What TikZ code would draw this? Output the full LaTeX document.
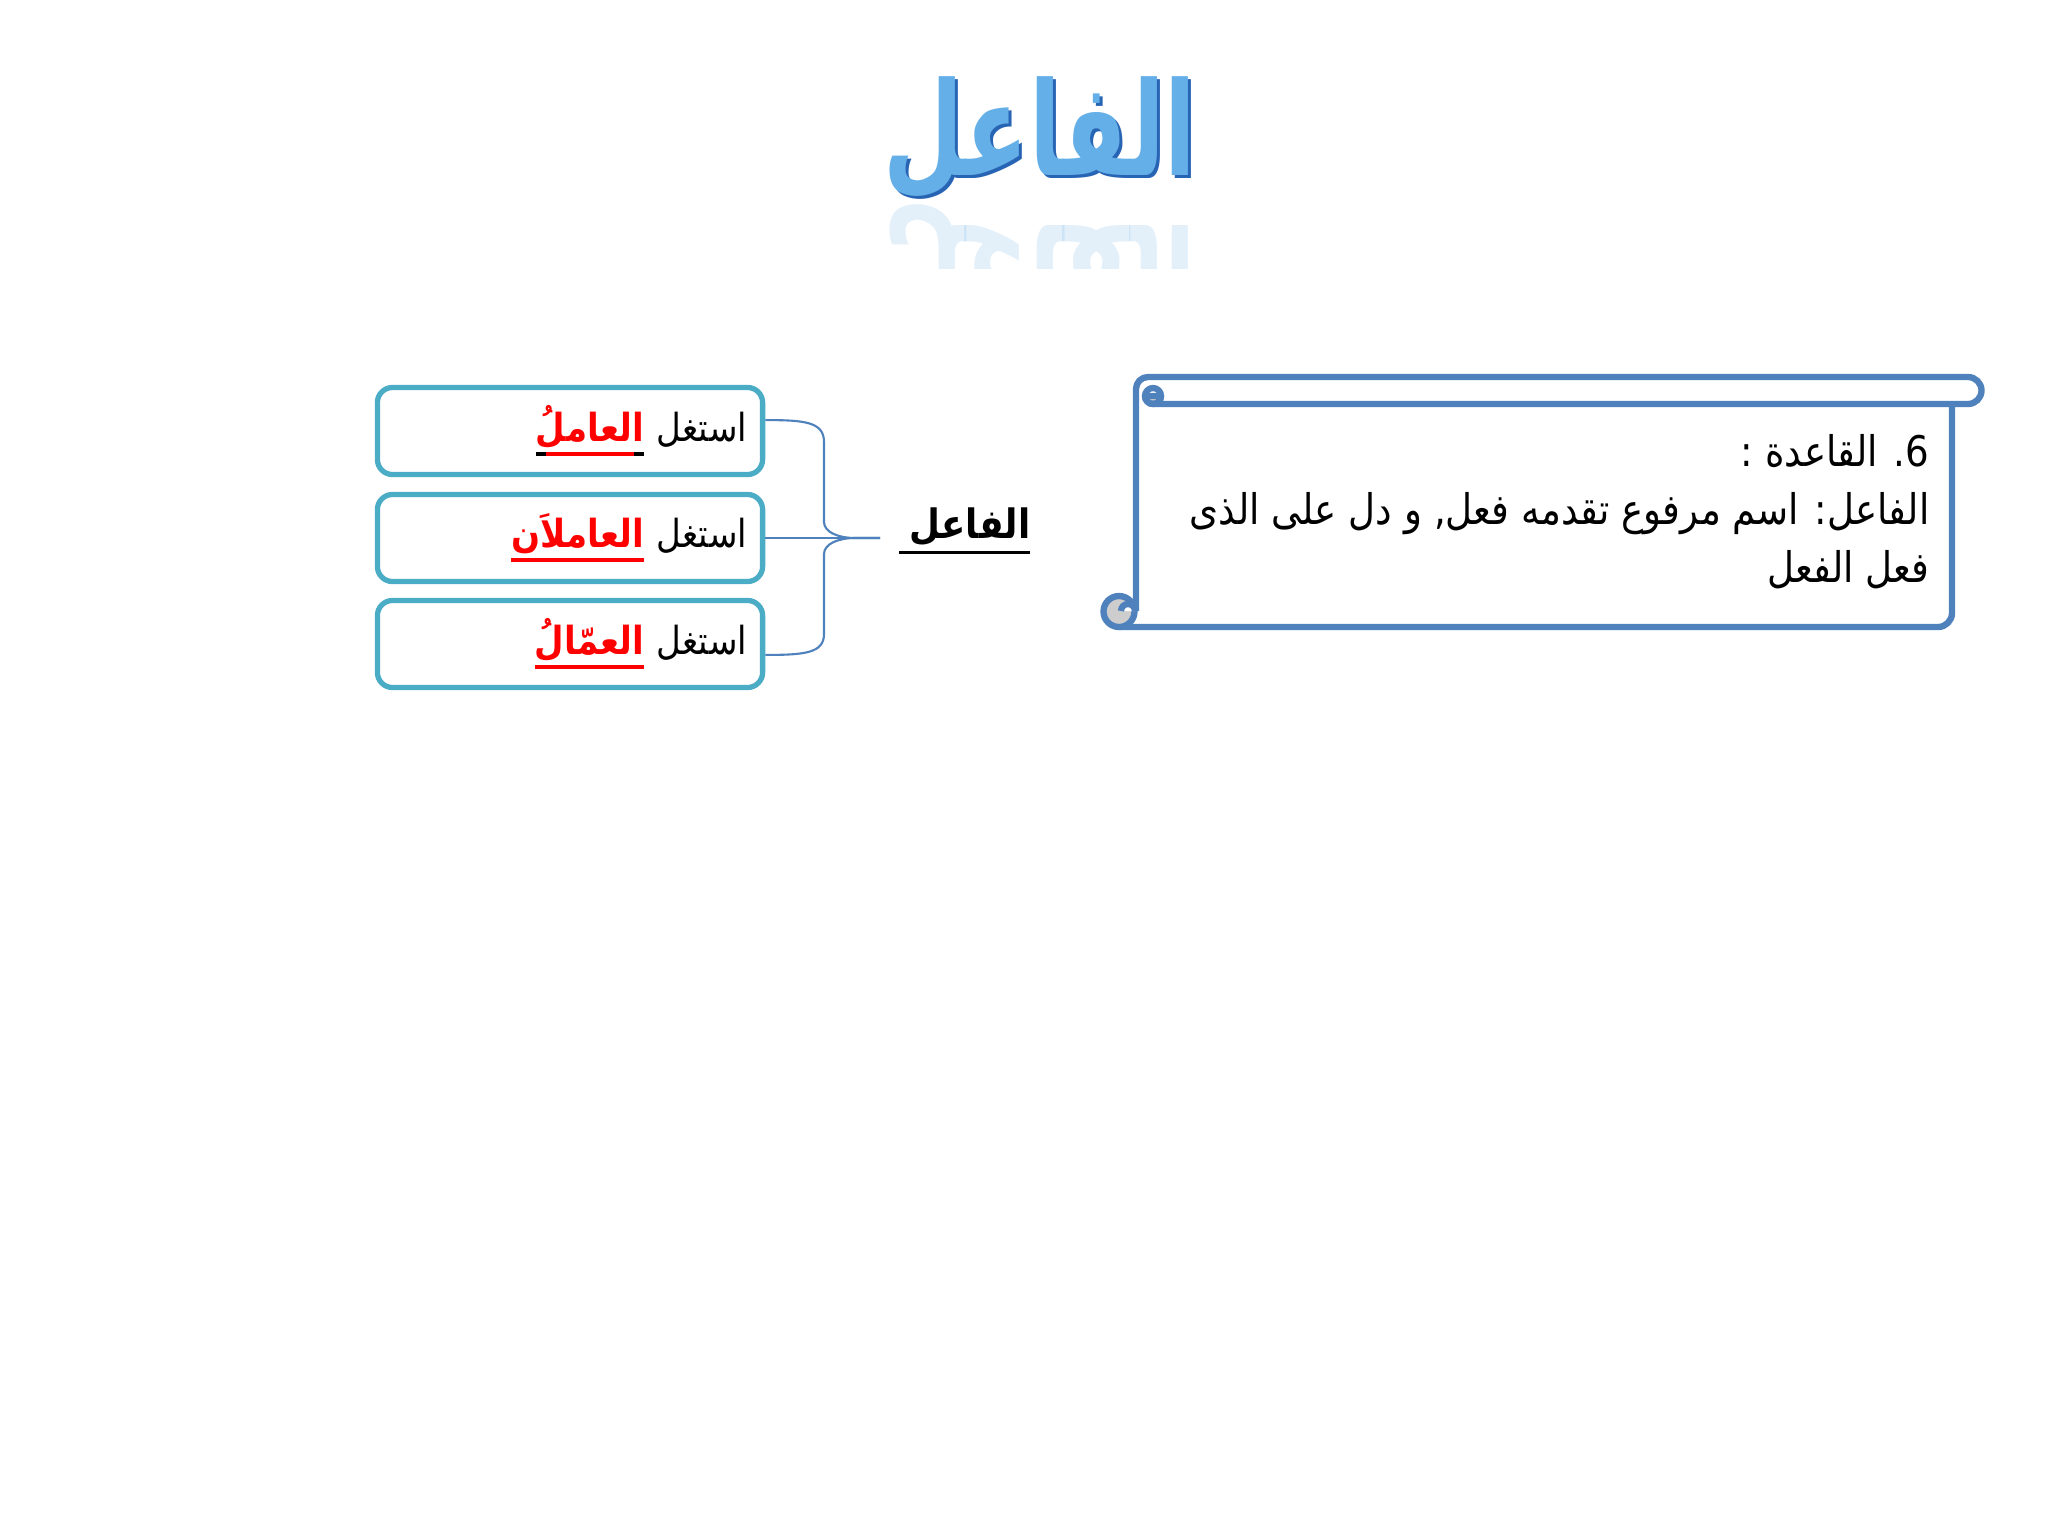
\documentclass[tikz,border=0pt]{standalone}
\usepackage{fontspec}
\newfontfamily\arabicfont[Script=Arabic,FakeStretch=0.88]{DejaVu Sans}
\newfontfamily\titlefont[Script=Arabic,FakeStretch=0.71]{DejaVu Sans}
\TeXXeTstate=1
\definecolor{boxline}{RGB}{75,172,198}
\definecolor{scrollline}{RGB}{79,129,189}
\definecolor{curlgrey}{RGB}{205,205,205}
\definecolor{titleblue}{RGB}{100,175,232}
\definecolor{titledark}{RGB}{40,100,180}
\newcommand{\redword}[1]{\setbox0\hbox{\bfseries #1}\hbox{\textcolor{red}{\copy0\llap{\vrule width\wd0 height -3pt depth 4.1pt}}}}
\newcommand{\redwordb}[1]{\setbox0\hbox{\bfseries #1}\hbox{\textcolor{red}{\copy0}\llap{\vrule width\wd0 height -3pt depth 4.1pt}\llap{\textcolor{red}{\vrule width\dimexpr\wd0-5.6pt\relax height -3pt depth 4.1pt}\kern2.8pt}}}
\newcommand{\blackword}[1]{\setbox0\hbox{#1}\hbox{\copy0\llap{\vrule width\dimexpr\wd0+3pt\relax height -3.6pt depth 4.6pt}}}
\begin{document}
\begin{tikzpicture}[x=0.01cm,y=-0.01cm,
  box/.style={draw=boxline,line width=1.5pt,rounded corners=4.3pt,minimum height=0.87cm,text width=3.54cm,inner xsep=0.155cm,align=right,font=\arabicfont\fontsize{11}{13}\selectfont},
  brace/.style={draw=scrollline,line width=0.6pt},
  scroll/.style={draw=scrollline,line width=1.8pt,line join=round},
  curl/.style={fill=curlgrey,draw=scrollline,line width=1.8pt,line join=round},
  rule line/.style={anchor=base east,inner sep=0pt,font=\arabicfont\fontsize{12}{14}\selectfont},
  title/.style={anchor=base,inner sep=0pt,font=\titlefont\bfseries\fontsize{37}{40}\selectfont}]
  \useasboundingbox (0,0) rectangle (2048,1536);
  \fill [white] (0,0) rectangle (2048,1536);
  % title
  \node [title, text=titledark] (t0) at (1043,178) {\beginR الفاعل\endR};
  \node [title, text=titleblue] (t) at (1040,175) {\beginR الفاعل\endR};
  \begin{scope}
    \clip (860,200) rectangle (1220,268);
    \node [title, text=titleblue, opacity=0.18, yscale=-1, transform shape] (tr) at (1040,225) {\beginR الفاعل\endR};
  \end{scope}
  % boxes
  \node [box] (1) at (570,431) {\redwordb{العاملُ} استغل};
  \node [box] (2) at (570,538) {\redword{العاملاَن} استغل};
  \node [box] (3) at (570,644) {\redword{العمّالُ} استغل};
  \coordinate (tip) at (880,538);
  \node [anchor=base, inner sep=0pt, font=\arabicfont\bfseries\fontsize{11.5}{14}\selectfont] (0) at (970,538) {\blackword{الفاعل}};
  \path [brace] ([yshift=3.1pt]1.east) .. controls (805,420) and (824,422) .. (824,442) -- (824,522)
    .. controls (824,532) and (838,538) .. (855,538) -- (tip);
  \path [brace] ([yshift=-3.1pt]3.east) .. controls (805,655) and (824,653) .. (824,634) -- (824,554)
    .. controls (824,544) and (838,538) .. (855,538) -- (tip);
  \path [brace] (2.east) -- (tip);
  % scroll
  \draw [scroll] (1119,627) -- (1938,627) arc (90:0:14) -- (1952,404);
  \draw [scroll] (1136,611) -- (1136,389) arc (180:270:12) -- (1968,377) arc (-90:90:13.5) -- (1153,404);
  \filldraw [curl] (1145,396) arc (180:0:8) -- cycle;
  \draw [scroll] (1153,404) arc (90:450:8);
  \filldraw [curl] (1119,611.5) circle (15.5);
  \draw [scroll, fill=white] (1135,611) arc (0:-180:7);
  \node [rule line] (s1) at (1930,466) {\beginR 6\kern0pt. القاعدة :\endR};
  \node [rule line] (s2) at (1930,524) {\beginR الفاعل\kern0pt: اسم مرفوع تقدمه فعل\kern0pt, و دل على الذى\endR};
  \node [rule line] (s3) at (1930,582) {\beginR فعل الفعل\endR};
\end{tikzpicture}
\end{document}
